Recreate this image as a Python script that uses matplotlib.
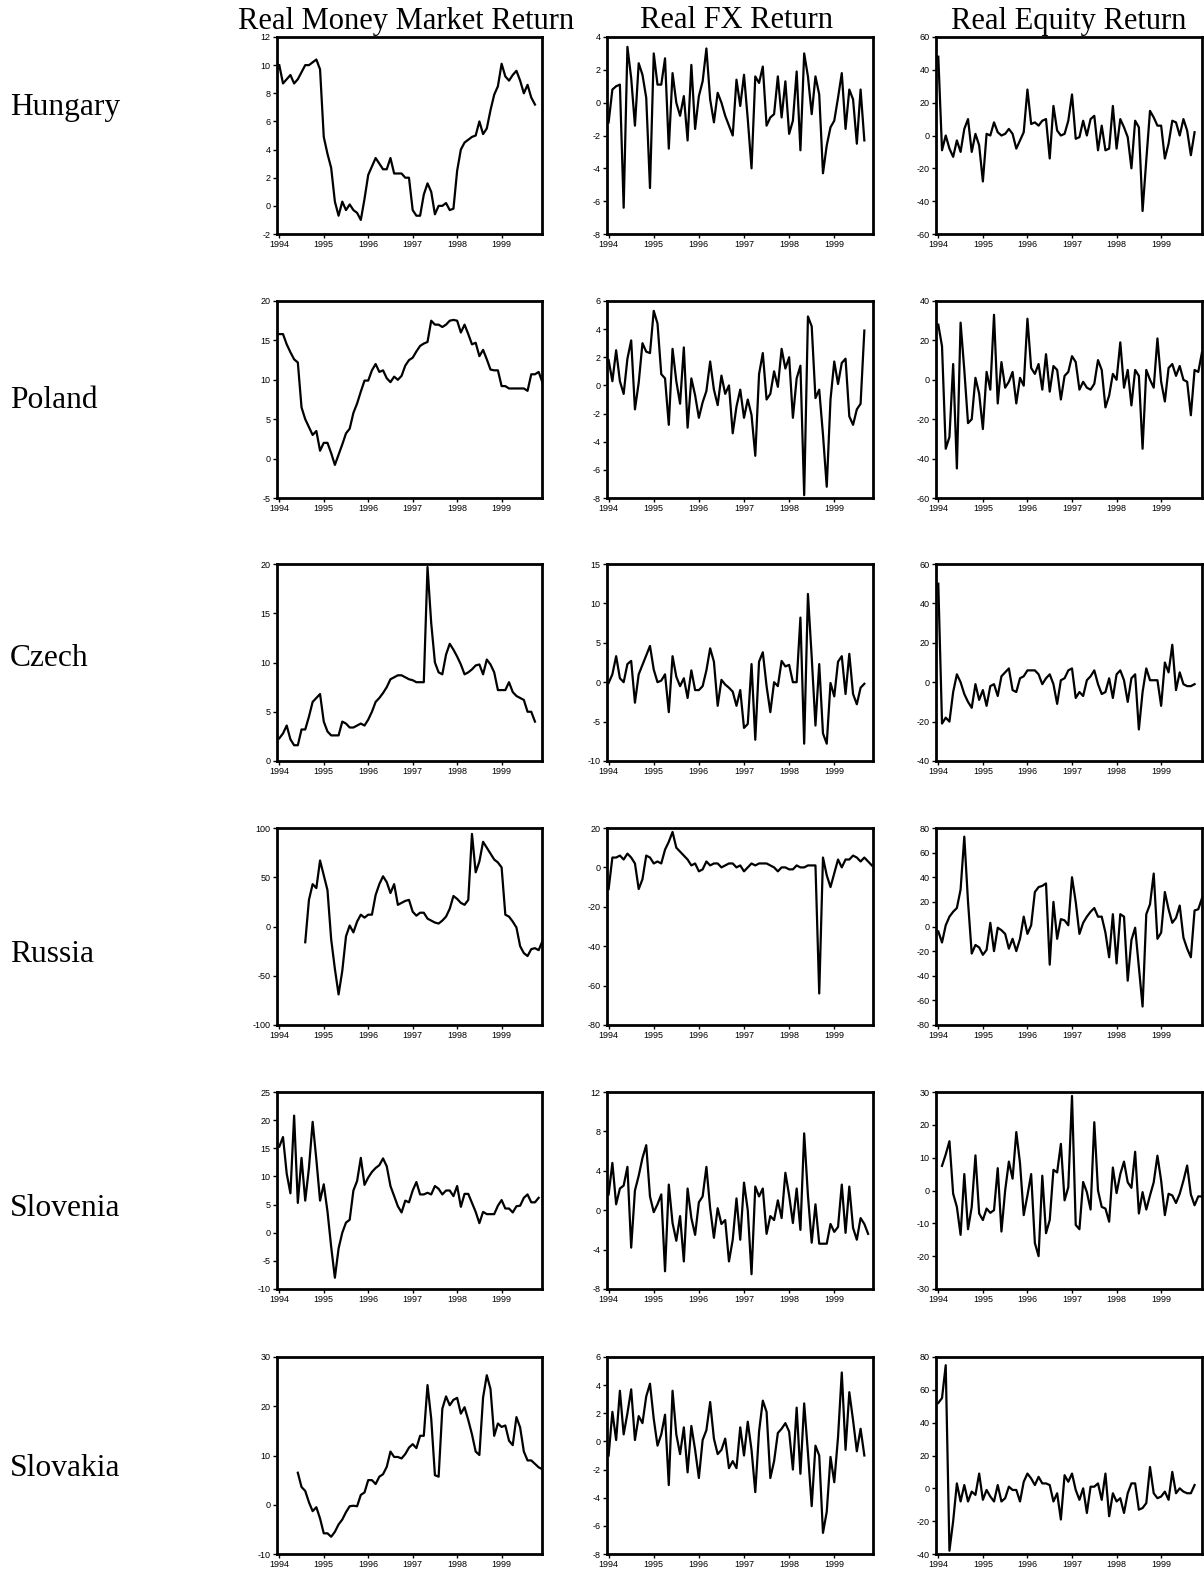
import matplotlib.pyplot as plt
import numpy as np

plt.rcParams['font.family'] = ['Liberation Sans', 'DejaVu Sans']
plt.rcParams['axes.unicode_minus'] = False

countries = ['Hungary', 'Poland', 'Czech', 'Russia', 'Slovenia', 'Slovakia']
columns = ['Real Money Market Return', 'Real FX Return', 'Real Equity Return']
years = ['1994', '1995', '1996', '1997', '1998', '1999']

# monthly values, month 0 = Jan 1994
hungary_mm = [10.0, 8.7, 9.0, 9.3, 8.7, 9.0, 9.5, 10.0, 10.0, 10.2, 10.4, 9.7,
              4.9, 3.7, 2.7, 0.3, -0.7, 0.3, -0.3, 0.1, -0.3, -0.5, -1.0, 0.5,
              2.2, 2.8, 3.4, 3.0, 2.6, 2.6, 3.4, 2.3, 2.3, 2.3, 2.0, 2.0,
              -0.3, -0.7, -0.7, 0.8, 1.6, 1.0, -0.6, 0.0, 0.0, 0.2, -0.3, -0.2,
              2.5, 4.0, 4.5, 4.7, 4.9, 5.0, 6.0, 5.1, 5.5, 6.8, 7.9, 8.5,
              10.1, 9.2, 8.9, 9.3, 9.6, 8.9, 8.0, 8.6, 7.7, 7.2]
hungary_fx = [-1.2, 0.8, 1.0, 1.1, -6.4, 3.4, 1.5, -1.4, 2.4, 1.7, 0.3, -5.2,
              3.0, 1.1, 1.1, 2.7, -2.8, 1.8, 0.0, -0.8, 0.4, -2.3, 2.3, -1.6,
              0.4, 1.3, 3.3, 0.2, -1.2, 0.6, 0.0, -0.8, -1.4, -2.0, 1.4, -0.2,
              1.7, -1.0, -4.0, 1.6, 1.2, 2.2, -1.4, -0.9, -0.7, 1.6, -0.9, 1.3,
              -1.9, -1.1, 1.9, -2.9, 3.0, 1.6, -0.7, 1.6, 0.5, -4.3, -2.6, -1.5,
              -1.1, 0.3, 1.8, -1.6, 0.8, 0.2, -2.5, 0.8, -2.3]
hungary_eq = [48, -9, 0, -8, -13, -3, -10, 4, 10, -10, 1, -6,
              -28, 1, 0, 8, 2, 0, 1, 4, 1, -8, -3, 2,
              28, 7, 8, 6, 9, 10, -14, 18, 3, 0, 1, 9,
              25, -2, -1, 9, 0, 10, 12, -9, 6, -9, -8, 18,
              -8, 10, 5, -1, -20, 9, 5, -46, -15, 15, 11, 6,
              6, -14, -5, 9, 8, 0, 10, 3, -12, 2]

poland_mm = [15.8, 15.8, 14.5, 13.5, 12.6, 12.2, 6.5, 5.0, 4.0, 3.0, 3.5, 1.0,
             2.0, 2.0, 0.7, -0.8, 0.5, 1.8, 3.2, 3.8, 5.8, 7.0, 8.5, 9.9,
             9.9, 11.2, 12.0, 11.0, 11.2, 10.2, 9.7, 10.4, 10.0, 10.5, 11.8, 12.5,
             12.8, 13.6, 14.3, 14.6, 14.8, 17.5, 17.0, 17.0, 16.7, 17.0, 17.5, 17.6,
             17.5, 16.0, 17.0, 15.8, 14.5, 14.7, 13.0, 13.8, 12.6, 11.3, 11.2, 11.2,
             9.2, 9.2, 8.9, 8.9, 8.9, 8.9, 8.9, 8.6, 10.7, 10.7, 11.0, 9.7]
poland_fx = [1.8, 0.3, 2.5, 0.3, -0.6, 1.9, 3.2, -1.7, 0.2, 3.0, 2.4, 2.3,
             5.3, 4.4, 0.8, 0.5, -2.8, 2.6, 0.3, -1.3, 2.7, -3.0, 0.5, -0.7,
             -2.3, -1.2, -0.4, 1.7, -0.3, -1.4, 0.7, -0.6, 0.0, -3.4, -1.5, -0.3,
             -2.3, -1.0, -2.1, -5.0, 0.8, 2.3, -1.0, -0.6, 1.0, -0.1, 2.6, 1.2,
             2.0, -2.3, 0.5, 1.4, -7.8, 4.9, 4.2, -0.9, -0.3, -3.5, -7.2, -1.0,
             1.7, 0.1, 1.6, 1.9, -2.2, -2.8, -1.7, -1.3, 3.9]
poland_eq = [28, 17, -35, -29, 8, -45, 29, 5, -22, -20, 1, -7,
             -25, 4, -5, 33, -12, 9, -4, -1, 4, -12, 1, -3,
             31, 6, 3, 8, -5, 13, -6, 7, 5, -10, 2, 4,
             12, 9, -5, -1, -4, -5, -2, 10, 5, -14, -8, 3,
             0, 19, -4, 5, -13, 5, 2, -35, 5, 0, -4, 21,
             -1, -11, 6, 8, 2, 7, 0, -1, -18, 5, 4, 14]

czech_mm = [2.3, 2.8, 3.6, 2.2, 1.6, 1.6, 3.2, 3.2, 4.5, 6.0, 6.4, 6.8,
            4.0, 3.0, 2.6, 2.6, 2.6, 4.0, 3.8, 3.4, 3.4, 3.6, 3.8, 3.6,
            4.2, 5.0, 6.0, 6.4, 6.9, 7.5, 8.3, 8.5, 8.7, 8.7, 8.5, 8.3,
            8.2, 8.0, 8.0, 8.0, 19.7, 14.0, 10.0, 9.0, 8.8, 10.8, 11.9, 11.3,
            10.6, 9.8, 8.8, 9.0, 9.3, 9.7, 9.8, 8.8, 10.3, 9.8, 9.0, 7.2,
            7.2, 7.2, 8.0, 7.0, 6.6, 6.4, 6.2, 5.0, 5.0, 4.0]
czech_fx = [-0.1, 1.0, 3.3, 0.5, 0.0, 2.3, 2.7, -2.6, 1.0, 2.2, 3.4, 4.6,
            1.6, 0.0, 0.2, 1.0, -3.8, 3.3, 0.7, -0.5, 0.5, -2.0, 1.5, -1.0,
            -1.0, -0.5, 1.5, 4.3, 2.6, -3.0, 0.3, -0.3, -0.7, -1.2, -3.0, -1.0,
            -5.8, -5.3, 2.3, -7.3, 2.6, 3.8, -0.5, -3.8, 0.0, -0.5, 2.7, 2.0,
            2.2, 0.0, 0.0, 8.2, -7.8, 11.2, 3.2, -5.5, 2.3, -6.5, -7.8, -0.1,
            -1.8, 2.6, 3.3, -1.5, 3.6, -1.5, -2.8, -0.7, -0.2]
czech_eq = [50, -21, -18, -20, -5, 4, 0, -6, -10, -13, -1, -9,
            -4, -12, -2, -1, -7, 3, 5, 7, -4, -5, 2, 3,
            6, 6, 6, 4, -1, 2, 4, -1, -11, 1, 2, 6,
            7, -8, -5, -7, 1, 3, 6, -1, -6, -5, 2, -8,
            4, 6, 1, -10, 2, 4, -24, -5, 7, 1, 1, 1,
            -12, 10, 5, 19, -4, 5, -1, -2, -2, -1]

# Russia money market series starts in Aug 1994
russia_mm_start = 7
russia_mm = [-16, 27, 43, 39, 67, 52, 37, -13, -43, -69, -45, -10, 1,
             -6, 5, 12, 9, 12, 12, 32, 43, 51, 45, 34, 43, 22, 24,
             26, 27, 15, 11, 14, 14, 8, 6, 4, 3, 6, 10, 18, 31,
             28, 24, 22, 27, 94, 55, 66, 86, 80, 74, 68, 65, 60, 12,
             10, 5, -1, -20, -27, -30, -23, -22, -24, -15]
russia_fx = [-11, 5, 5, 6, 4, 7, 5, 2, -11, -6, 6, 5,
             2, 3, 2, 9, 13, 18, 10, 8, 6, 4, 1, 2,
             -2, -1, 3, 1, 2, 2, 0, 1, 2, 2, 0, 1,
             -2, 0, 2, 1, 2, 2, 2, 1, 0, -2, 0, 0,
             -1, -1, 1, 0, 0, 1, 1, 1, -64, 5, -4, -10,
             -3, 4, 0, 4, 4, 6, 5, 3, 5, 3, 1]
russia_eq = [-4, -13, 1, 8, 12, 15, 30, 73, 20, -22, -15, -17,
             -23, -19, 3, -20, -1, -3, -6, -18, -10, -20, -10, 8,
             -6, 1, 28, 32, 33, 35, -31, 20, -10, 6, 5, 1,
             40, 20, -6, 3, 8, 12, 15, 8, 8, -5, -25, 10,
             -30, 10, 8, -44, -11, -1, -33, -65, 10, 18, 43, -10,
             -5, 28, 14, 3, 7, 17, -9, -18, -25, 13, 14, 23]

slovenia_mm = [15.3, 17.0, 10.5, 7.0, 20.8, 5.3, 13.3, 5.7, 11.5, 19.7, 13.0, 5.7,
               8.6, 3.8, -2.5, -8.0, -2.8, 0.0, 1.8, 2.3, 7.5, 9.2, 13.3, 8.5,
               9.8, 10.8, 11.5, 12.0, 13.2, 11.8, 8.3, 6.5, 4.7, 3.6, 5.7, 5.4,
               7.5, 9.0, 6.8, 6.8, 7.1, 6.8, 8.3, 7.8, 6.8, 7.5, 7.5, 6.5,
               8.3, 4.6, 6.9, 6.9, 5.3, 3.7, 1.7, 3.7, 3.3, 3.3, 3.3, 4.8,
               5.8, 4.3, 4.3, 3.6, 4.7, 4.8, 6.2, 6.8, 5.4, 5.4, 6.2]
slovenia_fx = [1.6, 4.8, 0.6, 2.2, 2.5, 4.4, -3.8, 2.0, 3.5, 5.3, 6.6, 1.4,
               -0.2, 0.6, 1.6, -6.2, 2.6, -1.3, -3.1, -0.6, -5.2, 2.2, -0.8, -2.5,
               0.8, 1.4, 4.4, 0.2, -2.8, 0.2, -1.4, -1.0, -5.2, -3.0, 1.2, -3.0,
               2.8, 0.0, -6.5, 2.4, 1.4, 2.2, -2.4, -0.6, -1.0, 1.0, -0.8, 3.8,
               1.5, -1.3, 2.2, -2.0, 7.8, 1.5, -3.3, 0.6, -3.4, -3.4, -3.4, -1.4,
               -2.2, -1.7, 2.6, -2.3, 2.4, -1.8, -3.0, -0.8, -1.4, -2.4]
# Slovenia equity series starts in Feb 1994
slovenia_eq_start = 1
slovenia_eq = [7.5, 11, 15, -1, -5, -13.5, 5, -11.8, -5, 10.7, -7, -9,
               -5.5, -6.8, -6, 6.8, -12.5, 0, 8.8, 3.6, 17.8, 8.3, -7.5, -1.5,
               5, -16, -20, 4.5, -13, -9, 6.3, 5.5, 14.2, -3, 1, 28.8,
               -10.5, -11.8, 2.6, -0.5, -5.8, 20.8, 0, -5, -5.5, -9.5, 7, -0.8,
               5, 8.8, 2.5, 0.8, 11.8, -7, -0.5, -5.8, -1.5, 2.5, 10.6, 3,
               -7.5, -1, -1.5, -3.8, -1, 3, 7.6, -1.2, -4.5, -1.8, -1.8]

# Slovakia money market series starts in Jun 1994
slovakia_mm_start = 5
slovakia_mm = [6.5, 3.6, 2.8, 0.5, -1.3, -0.5, -2.8, -5.8, -5.8, -6.5, -5.5, -4.0,
               -3.0, -1.5, -0.3, -0.2, -0.3, 2.0, 2.5, 5.0, 5.0, 4.2, 5.7, 6.2,
               7.7, 10.8, 9.7, 9.7, 9.4, 10.3, 11.6, 12.3, 11.5, 14.0, 14.0, 24.3,
               17.5, 6.0, 5.7, 19.5, 22.0, 20.2, 21.3, 21.7, 18.5, 19.8, 17.2, 14.3,
               10.8, 10.1, 21.8, 26.3, 23.5, 14.0, 16.5, 15.8, 16.1, 13.0, 12.1, 17.8,
               15.7, 10.8, 9.0, 9.0, 8.3, 7.6, 7.2]
slovakia_fx = [-1.0, 2.1, 0.1, 3.6, 0.5, 2.0, 3.7, 0.1, 1.8, 1.3, 3.2, 4.1,
               1.6, -0.3, 0.5, 1.9, -3.1, 3.6, 0.5, -0.9, 1.0, -2.2, 1.1, -0.6,
               -2.6, 0.1, 0.8, 2.8, 0.2, -0.9, -0.6, 0.2, -1.9, -1.4, -1.9, 1.0,
               -1.0, 1.4, -0.6, -3.6, 0.7, 2.9, 2.1, -2.6, -1.4, 0.6, 0.9, 1.3,
               0.7, -2.0, 2.4, -2.3, 2.7, -0.8, -4.6, -0.3, -1.0, -6.5, -5.0, -1.1,
               -2.9, 0.3, 4.9, -0.6, 3.5, 1.5, -0.7, 0.9, -1.0]
slovakia_eq = [52, 55, 75, -38, -20, 3, -8, 2, -8, -2, -4, 9,
               -7, -1, -5, -8, 2, -8, -6, 1, -1, -1, -8, 4,
               9, 6, 2, 7, 3, 3, 2, -8, -3, -19, 8, 4,
               9, -1, -7, 0, -15, 1, 1, 3, -7, 9, -17, -3,
               -8, -6, -15, -3, 3, 3, -13, -12, -9, 13, -3, -6,
               -5, -2, -7, 10, -3, 0, -2, -3, -3, 2]

series = [
    [(hungary_mm, 0), (hungary_fx, 0), (hungary_eq, 0)],
    [(poland_mm, 0), (poland_fx, 0), (poland_eq, 0)],
    [(czech_mm, 0), (czech_fx, 0), (czech_eq, 0)],
    [(russia_mm, russia_mm_start), (russia_fx, 0), (russia_eq, 0)],
    [(slovenia_mm, 0), (slovenia_fx, 0), (slovenia_eq, slovenia_eq_start)],
    [(slovakia_mm, slovakia_mm_start), (slovakia_fx, 0), (slovakia_eq, 0)],
]

# y axis (min, max, step) per panel
yaxes = [
    [(-2, 12, 2), (-8, 4, 2), (-60, 60, 20)],
    [(-5, 20, 5), (-8, 6, 2), (-60, 40, 20)],
    [(0, 20, 5), (-10, 15, 5), (-40, 60, 20)],
    [(-100, 100, 50), (-80, 20, 20), (-80, 80, 20)],
    [(-10, 25, 5), (-8, 12, 4), (-30, 30, 10)],
    [(-10, 30, 10), (-8, 6, 2), (-40, 80, 20)],
]

W, H = 1204, 1577
fig = plt.figure(figsize=(W / 100, H / 100), dpi=100)

lefts = [277, 607, 936]
widths = [265, 266, 266]
xlims = [(-0.62, 70.9), (-0.43, 70.3), (-0.62, 71.0)]
ph = 197
tops = [37, 301, 564, 828, 1092, 1357]
label_y = [107, 400, 658, 954, 1208, 1468]
title_x = [406, 737, 1069]

for r in range(6):
    for c in range(3):
        vals, start = series[r][c]
        lo, hi, step = yaxes[r][c]
        ax = fig.add_axes([lefts[c] / W, 1 - (tops[r] + ph) / H, widths[c] / W, ph / H])
        x = np.arange(start, start + len(vals))
        ax.plot(x, vals, color='black', lw=1.6)
        ax.set_xlim(*xlims[c])
        ax.set_ylim(lo, hi)
        ax.set_yticks(np.arange(lo, hi + step / 2, step))
        ax.set_xticks(np.arange(0, 61, 12))
        ax.set_xticklabels(years)
        ax.tick_params(labelsize=6.5, length=3, width=1, pad=1.5)
        for s in ax.spines.values():
            s.set_linewidth(2)
    fig.text(10 / W, 1 - label_y[r] / H, countries[r], ha='left', va='center',
             family='Liberation Serif', fontsize=22.7)

for c in range(3):
    fig.text(title_x[c] / W, 1 - 21 / H, columns[c], ha='center', va='center',
             family='Liberation Serif', fontsize=22)

fig.savefig('out.png', dpi=100)
